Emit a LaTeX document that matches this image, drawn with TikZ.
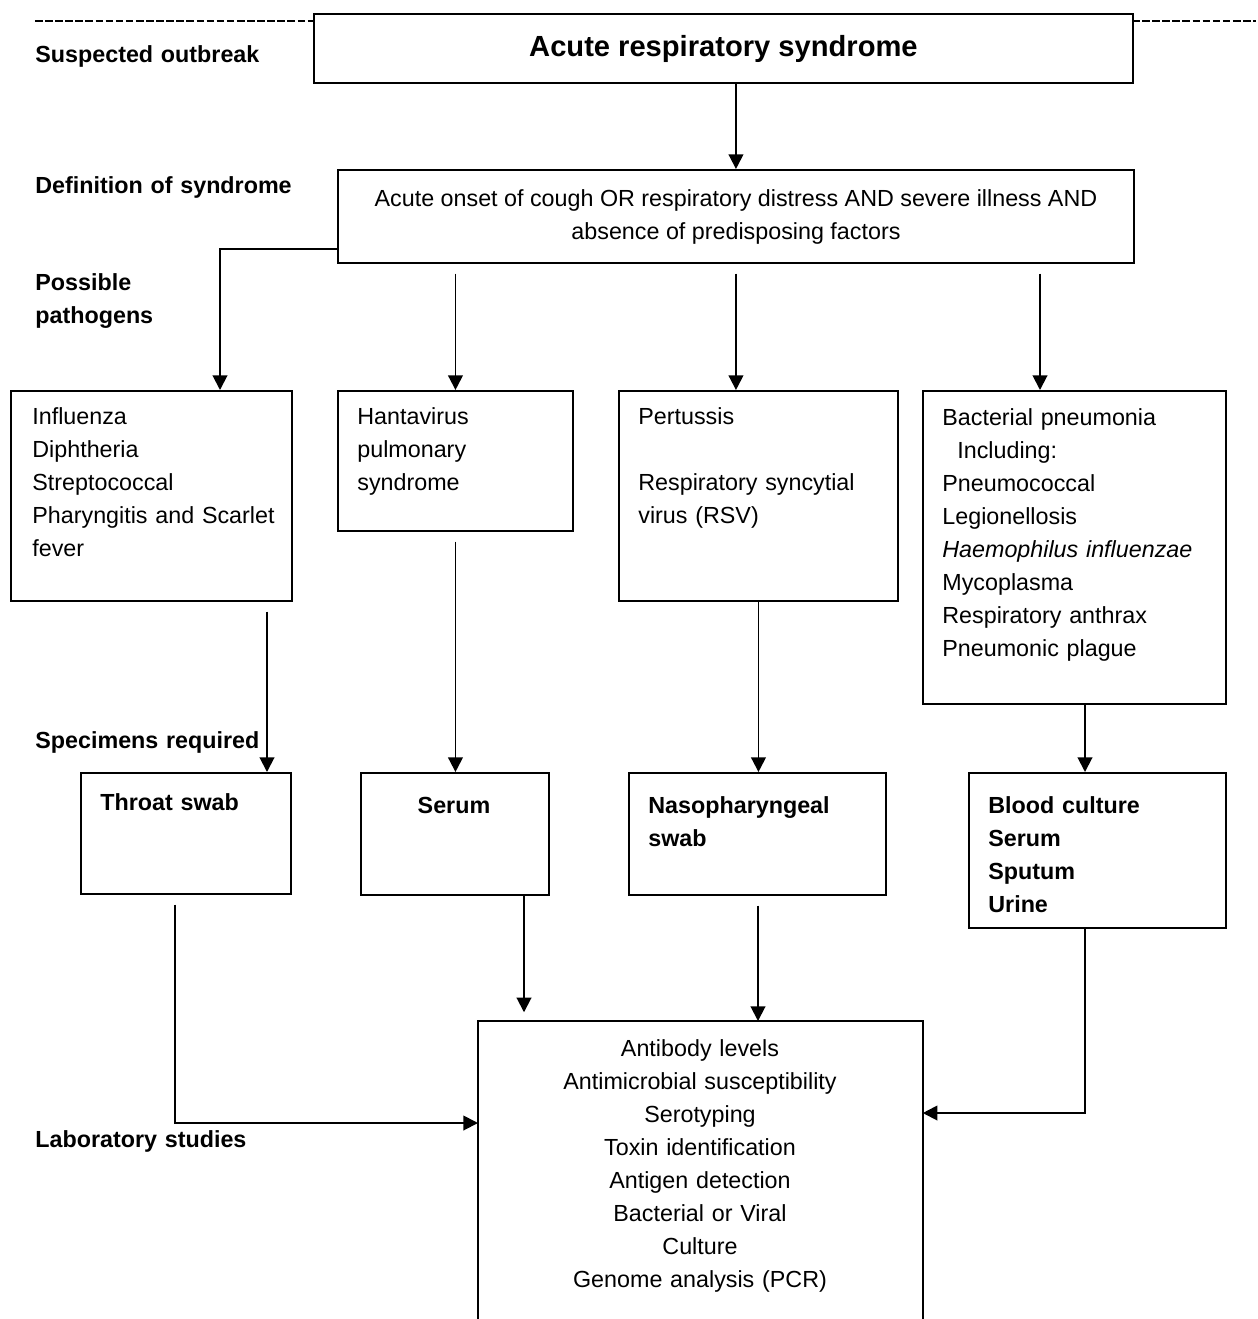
\documentclass[tikz,border=0pt]{standalone}
\usepackage{fontspec}
\setmainfont{Liberation Sans}
\usetikzlibrary{arrows.meta}
\newcommand{\pxl}{0.515pt}

\begin{document}
\begin{tikzpicture}[x=0.515pt, y=-0.515pt,
	font=\fontsize{12}{17}\selectfont,
	box/.style={draw, line width=1pt, inner sep=0pt, anchor=north west},
	txt/.style={inner sep=0pt, anchor=base west, align=left, text width=300pt},
	ctxt/.style={inner sep=0pt, anchor=base, align=center, text width=300pt},
	lbl/.style={txt, font=\fontsize{12}{17}\selectfont\bfseries},
	arr/.style={-{Triangle[length=7.5pt, width=7.5pt]}, line width=1pt},
	gap/.style={shorten <=5pt},
	dashline/.style={line width=1.3pt, dash pattern=on 3.9pt off 1.3pt}]
	\useasboundingbox (0,0) rectangle (1258,1319);
	\node[lbl] (suspected) at (35,62) {Suspected outbreak};
	\node[lbl] (definition) at (35,193) {Definition of syndrome};
	\node[lbl] (possible) at (35,290) {Possible\\pathogens};
	\node[lbl] (specimens) at (35,748) {Specimens required};
	\node[lbl] (laboratory) at (35,1147) {Laboratory studies};
	\draw[dashline] (35,21) -- (313,21);
	\draw[dashline] (1132,21) -- (1256,21);
	\node[box, minimum width=819*\pxl, minimum height=69*\pxl, font=\fontsize{15}{18}\selectfont\bfseries] (top) at (313,13) {Acute respiratory syndrome};
	\node[box, minimum width=796*\pxl, minimum height=93*\pxl, align=center] (def) at (337,169) {Acute onset of cough OR respiratory distress AND severe illness AND\\absence of predisposing factors};
	\node[box, minimum width=281*\pxl, minimum height=210*\pxl] (flu) at (10,390) {};
	\node[box, minimum width=235*\pxl, minimum height=140*\pxl] (hanta) at (337,390) {};
	\node[box, minimum width=279*\pxl, minimum height=210*\pxl] (pert) at (618,390) {};
	\node[box, minimum width=303*\pxl, minimum height=313*\pxl] (bact) at (922,390) {};
	\node[txt] (flutxt) at (32,424) {Influenza\\Diphtheria\\Streptococcal\\Pharyngitis and Scarlet\\fever};
	\node[txt] (hantatxt) at (357,424) {Hantavirus\\pulmonary\\syndrome};
	\node[txt] (perttxt) at (638,424) {Pertussis\\[17pt]Respiratory syncytial\\virus (RSV)};
	\node[txt] (bacttxt) at (942,425) {Bacterial pneumonia\\\hspace*{7.7pt}Including:\\Pneumococcal\\Legionellosis\\\textit{Haemophilus influenzae}\\Mycoplasma\\Respiratory anthrax\\Pneumonic plague};
	\node[box, minimum width=210*\pxl, minimum height=121*\pxl] (throat) at (80,772) {};
	\node[box, minimum width=188*\pxl, minimum height=122*\pxl] (serum) at (360,772) {};
	\node[box, minimum width=257*\pxl, minimum height=122*\pxl] (naso) at (628,772) {};
	\node[box, minimum width=257*\pxl, minimum height=155*\pxl] (blood) at (968,772) {};
	\node[lbl] (throattxt) at (100,810) {Throat swab};
	\node[ctxt, font=\fontsize{12}{17}\selectfont\bfseries] (serumtxt) at (454,813) {Serum};
	\node[lbl] (nasotxt) at (648,813) {Nasopharyngeal\\swab};
	\node[lbl] (bloodtxt) at (988,813) {Blood culture\\Serum\\Sputum\\Urine};
	\node[inner sep=0pt, anchor=north west, minimum width=444*\pxl, minimum height=310*\pxl] (lab) at (478,1021) {};
	\draw[line width=1pt] (lab.south west) -- (lab.north west) -- (lab.north east) -- (lab.south east);
	\node[ctxt] (labtxt) at (700,1056) {Antibody levels\\Antimicrobial susceptibility\\Serotyping\\Toxin identification\\Antigen detection\\Bacterial or Viral\\Culture\\Genome analysis (PCR)};
	\coordinate (x1) at (220,249);
	\coordinate (x4) at (1040,0);
	\coordinate (x5) at (267,0);
	\coordinate (x6) at (1085,0);
	\coordinate (x7) at (175,1123);
	\coordinate (x8) at (524,0);
	\coordinate (x9) at (758,0);
	\coordinate (y2) at (0,1113);
	\draw[arr] (top.south -| def.north) -- (def.north);
	\draw[arr] (def.west |- x1) -- (x1) -- (x1 |- flu.north);
	\draw[arr, gap] (def.south -| hanta.north) -- (hanta.north);
	\draw[arr, gap] (def.south) -- (def.south |- pert.north);
	\draw[arr, gap] (def.south -| x4) -- (bact.north -| x4);
	\draw[arr, gap] (flu.south -| x5) -- (throat.north -| x5);
	\draw[arr, gap] (hanta.south) -- (hanta.south |- serum.north);
	\draw[arr] (pert.south) -- (pert.south |- naso.north);
	\draw[arr] (bact.south -| x6) -- (blood.north -| x6);
	\draw[arr, gap] (throat.south -| x7) -- (x7) -- (lab.west |- x7);
	\draw[arr, shorten >=4.5pt] (serum.south -| x8) -- (lab.north -| x8);
	\draw[arr, gap] (naso.south -| x9) -- (lab.north -| x9);
	\draw[arr] (blood.south -| x6) -- (x6 |- y2) -- (lab.east |- y2);
\end{tikzpicture}
\end{document}
